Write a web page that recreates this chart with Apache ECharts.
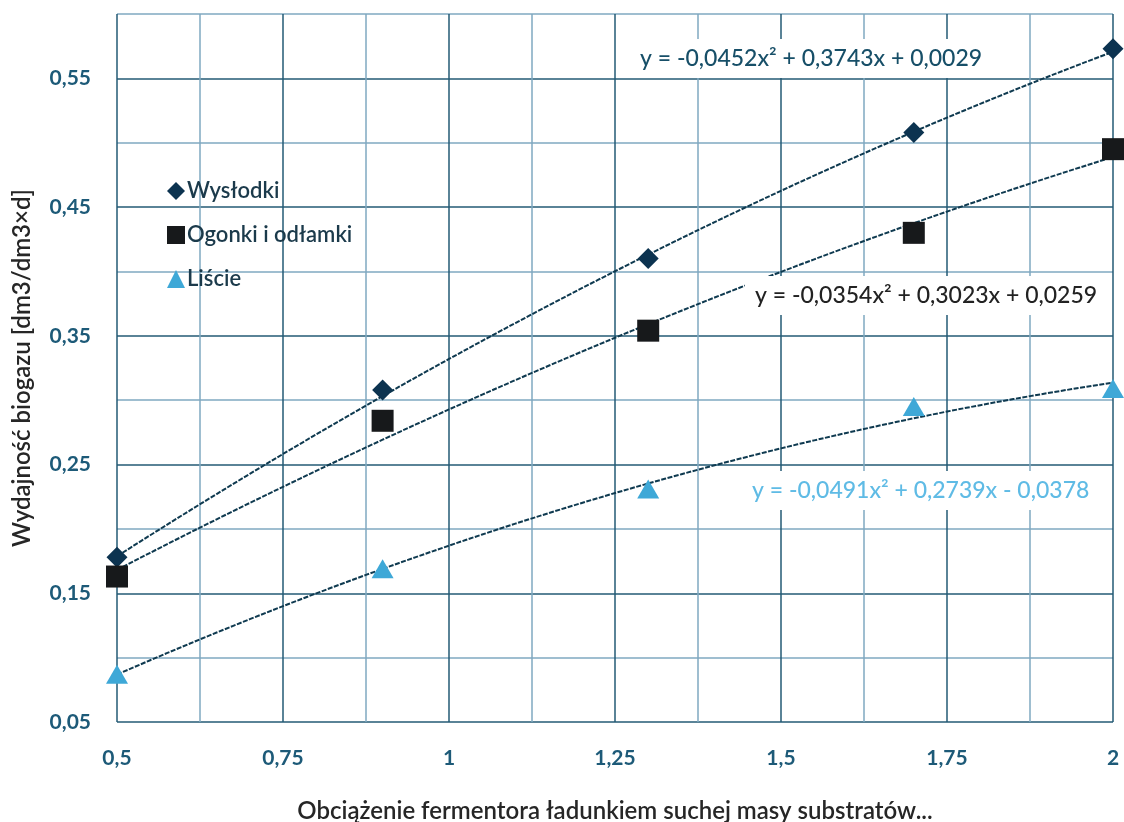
<!DOCTYPE html>
<html><head><meta charset="utf-8">
<script src="https://cdn.jsdelivr.net/npm/echarts@6/dist/echarts.min.js"></script>
<style>html,body{margin:0;padding:0;background:#fff}#c{width:1124px;height:822px}</style>
</head><body><div id="c"></div>
<script>
// ---- data ----
const xValues = [0.5, 0.9, 1.3, 1.7, 2.0];
const wyslodki = [0.178, 0.308, 0.410, 0.508, 0.573];
const ogonki = [0.163, 0.284, 0.354, 0.430, 0.495];
const liscie = [0.087, 0.169, 0.231, 0.295, 0.309];
// trendline coefficients [a, b, c] for y = a x^2 + b x + c (as printed on the chart)
const coefWyslodki = [-0.0452, 0.3743, 0.0029];
const coefOgonki = [-0.0354, 0.3023, 0.0259];
const coefLiscie = [-0.0491, 0.2739, -0.0378];
const eqWyslodki = 'y = -0,0452x² + 0,3743x + 0,0029';
const eqOgonki = 'y = -0,0354x² + 0,3023x + 0,0259';
const eqLiscie = 'y = -0,0491x² + 0,2739x - 0,0378';
const seriesNames = ['Wysłodki', 'Ogonki i odłamki', 'Liście'];
const xTickLabels = ['0,5', '0,75', '1', '1,25', '1,5', '1,75', '2'];
const yTickLabels = ['0,05', '0,15', '0,25', '0,35', '0,45', '0,55'];
const xName = 'Obciążenie fermentora ładunkiem suchej masy substratów...';
const yName = 'Wydajność biogazu [dm3/dm3×d]';

// ---- build ----
function pts(ys) { return xValues.map((x, i) => [x, ys[i]]); }
function trend(c) {
  const out = [];
  for (let i = 0; i <= 60; i++) { const x = 0.5 + i * 0.025; out.push([x, c[0]*x*x + c[1]*x + c[2]]); }
  return out;
}
const MAJOR = '#235a75', MINOR = '#7fa9c0';
const trendStyle = { color: '#0f3a50', width: 2, type: [5, 1.5] };
const chart = echarts.init(document.getElementById('c'), null, { renderer: 'canvas' });
const font = 'Lato, "DejaVu Sans", sans-serif';
chart.setOption({
  animation: false,
  grid: { left: 117, right: 11, top: 14, bottom: 100, outerBoundsMode: 'none', containLabel: false },
  xAxis: {
    type: 'value', min: 0.5, max: 2, interval: 0.125,
    axisLine: { show: false }, axisTick: { show: false },
    splitLine: { show: true, lineStyle: { color: [MAJOR, MINOR], width: 1.5 } },
    axisLabel: { margin: 26, color: '#1d5a78', fontSize: 21, fontWeight: 'bold', fontFamily: font,
      formatter: (v, i) => (i % 2 === 0 ? xTickLabels[i / 2] : '') },
    name: xName, nameLocation: 'middle', nameGap: 77,
    nameTextStyle: { color: '#262626', fontSize: 24, fontWeight: 600, fontFamily: font }
  },
  yAxis: {
    type: 'value', min: 0.05, max: 0.6, interval: 0.05,
    axisLine: { show: false }, axisTick: { show: false },
    splitLine: { show: true, lineStyle: { color: [MAJOR, MINOR], width: 1.5 } },
    axisLabel: { margin: 26, color: '#1d5a78', fontSize: 21, fontWeight: 'bold', fontFamily: font,
      formatter: (v, i) => (i % 2 === 0 ? yTickLabels[i / 2] : '') },
    name: yName, nameLocation: 'middle', nameGap: 83, nameRotate: 90,
    nameTextStyle: { color: '#262626', fontSize: 24, fontWeight: 600, fontFamily: font }
  },
  legend: {
    data: seriesNames, orient: 'vertical', left: 162, top: 175, itemGap: 22,
    itemWidth: 18, itemHeight: 18,
    textStyle: { color: '#1b3a4b', fontSize: 22, fontWeight: 600, fontFamily: font, padding: [0, 0, 0, -3] }
  },
  series: [
    { type: 'line', data: trend(coefWyslodki), showSymbol: false, lineStyle: trendStyle, silent: true, z: 2 },
    { type: 'line', data: trend(coefOgonki), showSymbol: false, lineStyle: trendStyle, silent: true, z: 2 },
    { type: 'line', data: trend(coefLiscie), showSymbol: false, lineStyle: trendStyle, silent: true, z: 2 },
    { name: seriesNames[0], type: 'scatter', data: pts(wyslodki), symbol: 'diamond', symbolSize: [21, 21],
      itemStyle: { color: '#0c3350', opacity: 1 }, clip: false, z: 5 },
    { name: seriesNames[1], type: 'scatter', data: pts(ogonki), symbol: 'rect', symbolSize: 22,
      itemStyle: { color: '#17191b', opacity: 1 }, clip: false, z: 5 },
    { name: seriesNames[2], type: 'scatter', data: pts(liscie), symbol: 'triangle', symbolSize: [22, 19],
      itemStyle: { color: '#3ea8d7', opacity: 1 }, clip: false, z: 5 }
  ],
  graphic: [
    { type: 'text', left: 630, top: 39, z: 10,
      style: { text: eqWyslodki, font: '500 23px ' + font, fill: '#174f68', backgroundColor: '#fff', padding: [8, 10, 8, 10] } },
    { type: 'text', left: 745, top: 276, z: 10,
      style: { text: eqOgonki, font: '500 23px ' + font, fill: '#222', backgroundColor: '#fff', padding: [8, 10, 8, 10] } },
    { type: 'text', left: 742, top: 471, z: 10,
      style: { text: eqLiscie, font: '500 23px ' + font, fill: '#5fbbe5', backgroundColor: '#fff', padding: [8, 10, 8, 10] } }
  ]
});
</script></body></html>
